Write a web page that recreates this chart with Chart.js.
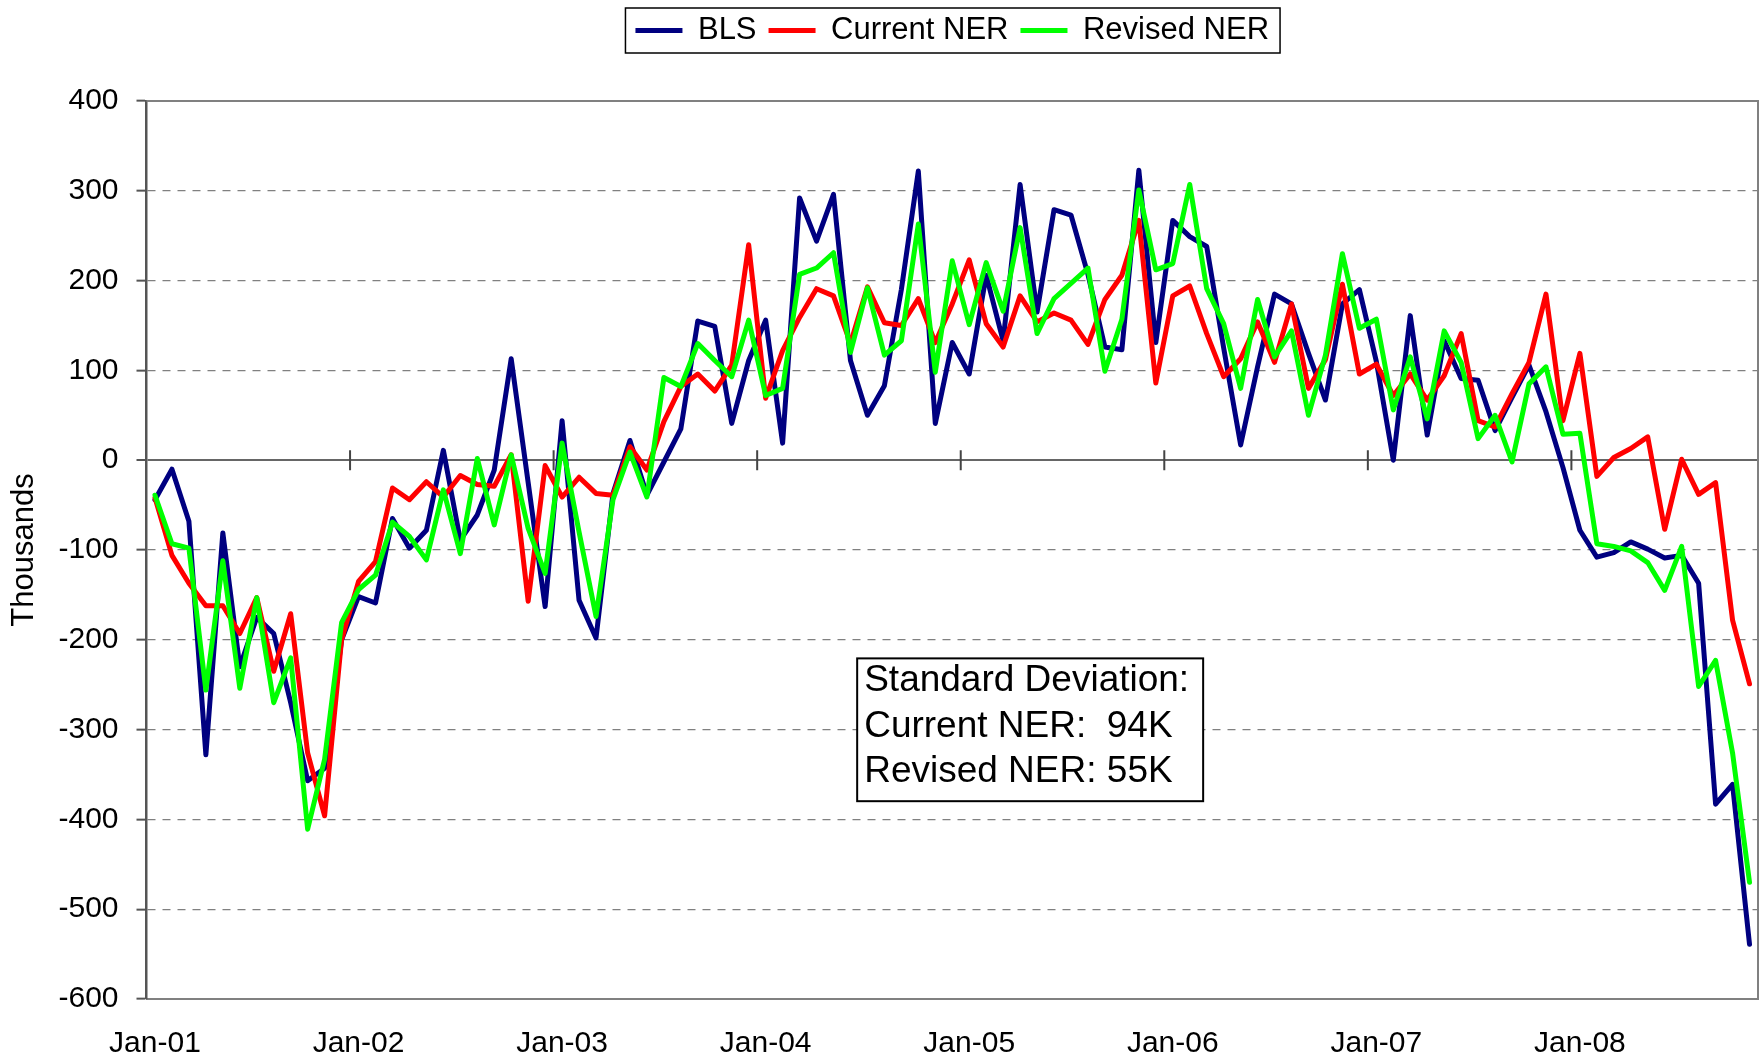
<!DOCTYPE html>
<html>
<head>
<meta charset="utf-8">
<script src="https://cdn.jsdelivr.net/npm/chart.js@4.4.1/dist/chart.umd.min.js"></script>
<style>
  html, body { margin: 0; padding: 0; background: #fff; }
</style>
</head>
<body>
<canvas id="nerChart" width="1764" height="1064"></canvas>
<script>
var FONT = '"Liberation Sans", Arial, Helvetica, sans-serif';

var monthNames = ['Jan', 'Feb', 'Mar', 'Apr', 'May', 'Jun', 'Jul', 'Aug', 'Sep', 'Oct', 'Nov', 'Dec'];
var years = ['01', '02', '03', '04', '05', '06', '07', '08'];
var lastMonth = 'Nov-08';

// monthly change, thousands (Jan-01 .. Nov-08)
var blsValues = [
    -44, -10, -68, -328, -81, -230, -175, -193, -270, -357, -343, -200,
    -152, -159, -65, -98, -78, 11, -89, -61, -11, 113, -25, -163,
    44, -156, -198, -37, 22, -39, -2, 35, 155, 149, 41, 111,
    156, 19, 292, 244, 296, 111, 50, 83, 190, 322, 41, 131,
    96, 206, 133, 307, 165, 279, 273, 207, 126, 123, 323, 131,
    267, 249, 238, 125, 17, 104, 185, 174, 119, 67, 174, 190,
    110, 0, 161, 28, 133, 91, 89, 33, 70, 106, 54, -8,
    -78, -108, -103, -91, -99, -109, -106, -137, -383, -361, -539
];
var currentNerValues = [
    -42, -106, -137, -162, -162, -193, -153, -235, -171, -326, -396, -200,
    -135, -113, -31, -44, -24, -41, -17, -27, -29, 6, -157, -6,
    -41, -19, -37, -39, 15, -11, 43, 82, 96, 77, 106, 240,
    69, 122, 159, 191, 183, 130, 193, 153, 150, 180, 131, 174,
    223, 152, 126, 183, 154, 164, 156, 129, 179, 206, 267, 86,
    183, 194, 141, 93, 113, 154, 109, 174, 80, 112, 196, 96,
    107, 72, 96, 67, 94, 141, 44, 37, 74, 109, 185, 44,
    119, -18, 3, 13, 26, -77, 1, -38, -25, -178, -249
];
var revisedNerValues = [
    -39, -93, -98, -256, -112, -254, -153, -270, -220, -411, -333, -181,
    -144, -128, -69, -85, -111, -33, -104, 2, -72, 6, -76, -126,
    19, -80, -174, -44, 9, -41, 92, 82, 130, 111, 93, 156,
    72, 80, 207, 214, 231, 120, 192, 117, 133, 263, 98, 222,
    151, 220, 166, 259, 141, 180, 197, 214, 99, 157, 301, 212,
    219, 307, 191, 152, 80, 179, 115, 144, 50, 117, 230, 147,
    157, 56, 115, 46, 144, 109, 24, 50, -2, 85, 104, 29,
    30, -93, -96, -101, -114, -145, -96, -252, -223, -326, -470
];

var stdDevLines = ['Standard Deviation:', 'Current NER:  94K', 'Revised NER: 55K'];

var monthLabels = [];
years.forEach(function(yr) {
    monthNames.forEach(function(m) {
        if (monthLabels.length && monthLabels[monthLabels.length - 1] == lastMonth) return;
        monthLabels.push(m + '-' + yr);
    });
});

function isZero(c) {
    return c.tick && c.tick.value === 0;
}

// leave room under the legend, like the original
var legendSpace = {
    id: 'legendSpace',
    beforeLayout(chart) {
        const lg = chart.legend;
        if (lg && !lg._spaced) {
            const fit = lg.fit;
            lg.fit = function() {
                fit.call(this);
                this.height += 45;
            };
            lg._spaced = true;
        }
    }
};

// plot frame (top/right) and the cross ticks on the zero line
var zeroAxisTicks = {
    id: 'zeroAxisTicks',
    beforeDatasetsDraw(chart) {
        const {ctx, chartArea} = chart;
        const x = chart.scales.x, y = chart.scales.y;
        const y0 = y.getPixelForValue(0);
        ctx.save();
        ctx.strokeStyle = '#808080';
        ctx.lineWidth = 2;
        ctx.beginPath();
        ctx.moveTo(chartArea.left, chartArea.top);
        ctx.lineTo(chartArea.right, chartArea.top);
        ctx.lineTo(chartArea.right, chartArea.bottom);
        ctx.stroke();
        ctx.strokeStyle = '#444';
        ctx.beginPath();
        for (let i = 12; i < monthLabels.length; i += 12) {
            const xb = (x.getPixelForValue(i - 1) + x.getPixelForValue(i)) / 2;
            ctx.moveTo(xb, y0 - 10);
            ctx.lineTo(xb, y0 + 10);
        }
        ctx.stroke();
        ctx.restore();
    }
};

// legend frame + the standard deviation text box
var boxes = {
    id: 'boxes',
    afterDraw(chart) {
        const {ctx, chartArea} = chart;
        ctx.save();
        const hb = chart.legend.legendHitBoxes;
        if (hb && hb.length) {
            let l = Infinity, r = -Infinity;
            hb.forEach(function(b) {
                l = Math.min(l, b.left);
                r = Math.max(r, b.left + b.width);
            });
            ctx.strokeStyle = '#000';
            ctx.lineWidth = 1.5;
            ctx.strokeRect(l - 10, hb[0].top - 7, r - l + 21, hb[0].height + 14);
        }

        ctx.font = '37px ' + FONT;
        let tw = 0;
        stdDevLines.forEach(function(t) { tw = Math.max(tw, ctx.measureText(t).width); });
        const bx = chartArea.left + 0.441 * (chartArea.right - chartArea.left);
        const by = chartArea.top + 0.6207 * (chartArea.bottom - chartArea.top);
        const lh = 45.6;
        ctx.fillStyle = '#fff';
        ctx.fillRect(bx, by, tw + 21, lh * 3 + 6);
        ctx.strokeStyle = '#000';
        ctx.lineWidth = 2;
        ctx.strokeRect(bx, by, tw + 21, lh * 3 + 6);
        ctx.fillStyle = '#000';
        ctx.textBaseline = 'middle';
        ctx.textAlign = 'left';
        stdDevLines.forEach(function(t, i) {
            ctx.fillText(t, bx + 7, by + 22.6 + i * lh);
        });
        ctx.restore();
    }
};

function makeDataset(label, data, color, order) {
    return {
        label: label,
        data: data,
        borderColor: color,
        backgroundColor: color,
        borderWidth: 5,
        borderJoinStyle: 'round',
        borderCapStyle: 'round',
        pointRadius: 0,
        pointHoverRadius: 0,
        tension: 0,
        fill: false,
        order: order
    };
}

var nerChart = new Chart(document.getElementById('nerChart'), {
    type: 'line',
    data: {
        labels: monthLabels,
        datasets: [
            makeDataset('BLS', blsValues, '#000080', 3),
            makeDataset('Current NER', currentNerValues, '#ff0000', 2),
            makeDataset('Revised NER', revisedNerValues, '#00ff00', 1)
        ]
    },
    plugins: [legendSpace, zeroAxisTicks, boxes],
    options: {
        responsive: false,
        animation: false,
        devicePixelRatio: 1,
        layout: { padding: { left: 0, right: 6, top: 3, bottom: 0 } },
        plugins: {
            tooltip: { enabled: false },
            legend: {
                position: 'top',
                fullSize: false,
                labels: {
                    usePointStyle: true,
                    pointStyle: 'line',
                    pointStyleWidth: 47,
                    padding: 12,
                    color: '#000',
                    font: { family: FONT, size: 31 },
                    sort: function(a, b) { return a.datasetIndex - b.datasetIndex; }
                }
            }
        },
        scales: {
            x: {
                offset: true,
                grid: { display: false, drawTicks: false },
                border: { display: true, color: '#808080', width: 2 },
                ticks: {
                    autoSkip: false,
                    maxRotation: 0,
                    minRotation: 0,
                    padding: 27,
                    color: '#000',
                    font: { family: FONT, size: 30 },
                    callback: function(val, index) {
                        return index % 12 === 0 ? this.getLabelForValue(val) : '';
                    }
                },
                afterFit: function(scale) {
                    scale.height = 65;
                    scale.paddingLeft = 0;
                    scale.paddingRight = 0;
                }
            },
            y: {
                min: -600,
                max: 400,
                ticks: {
                    stepSize: 100,
                    padding: 18,
                    color: '#000',
                    font: { family: FONT, size: 30 }
                },
                grid: {
                    color: function(c) { return isZero(c) ? '#666' : '#808080'; },
                    lineWidth: function(c) { return isZero(c) ? 2 : 1.3; },
                    tickLength: 10,
                    tickColor: '#555',
                    tickWidth: 2
                },
                border: {
                    display: true,
                    color: '#555',
                    width: 2.5,
                    dash: function(c) { return isZero(c) ? [] : [8, 7]; }
                },
                title: {
                    display: true,
                    text: 'Thousands',
                    color: '#000',
                    font: { family: FONT, size: 31 },
                    padding: { top: 6, bottom: 0 }
                },
                afterFit: function(scale) {
                    scale.width = 146.5;
                }
            }
        }
    }
});
</script>
</body>
</html>
